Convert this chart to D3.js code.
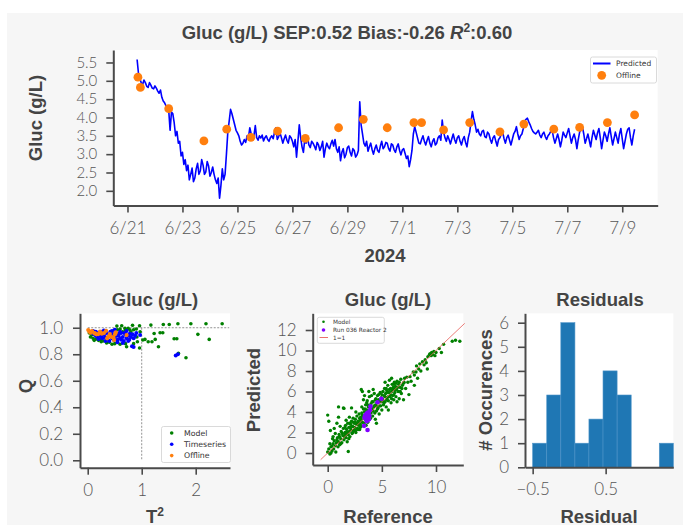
<!DOCTYPE html>
<html>
<head>
<meta charset="utf-8">
<script src="https://cdn.jsdelivr.net/npm/d3@7"></script>
<style>
  body { margin: 0; background: #fff; }
  svg { display: block; }
  .lbl { font-family: "Liberation Sans", Arial, sans-serif; font-weight: bold; fill: #444; }
  .leg { font-family: "DejaVu Sans", sans-serif; fill: #333; }
</style>
</head>
<body>
<div class="chart"></div>
<script>

// ---- data ----
var baseDay = Date.UTC(2024, 5, 21);           // 6/21
var predStartDay = 0.35, predStepDay = 0.05;    // predicted sampled every 1.2 h
var predicted = [
  5.58, 5.20, 5.05, 4.95, 4.90, 5.02, 4.95, 4.85, 4.82, 4.95,
  4.88, 4.80, 4.78, 4.86, 4.80, 4.72, 4.66, 4.75, 4.55, 4.45,
  4.40, 4.32, 4.30, 4.20, 3.65, 4.15, 4.10, 3.85, 3.50, 3.62,
  3.30, 3.35, 2.95, 3.05, 2.72, 2.85, 2.55, 2.70, 2.30, 2.45,
  2.62, 2.25, 2.35, 2.60, 2.75, 2.45, 2.55, 2.85, 2.70, 2.45,
  2.52, 2.80, 2.68, 2.40, 2.50, 2.65, 2.45, 2.30, 2.20, 2.35,
  1.80, 2.15, 2.60, 2.30, 2.45, 3.00, 3.60, 3.90, 4.22, 4.10,
  3.95, 3.80, 3.65, 3.58, 3.50, 3.35, 3.25, 3.30, 3.40, 3.32,
  3.50, 3.45, 3.72, 3.55, 3.42, 3.50, 3.78, 3.45, 3.38, 3.50,
  3.44, 3.52, 3.36, 3.45, 3.50, 3.40, 3.35, 3.45, 3.50, 3.42,
  3.60, 3.72, 3.40, 3.48, 3.58, 3.45, 3.30, 3.42, 3.52, 3.38,
  3.30, 3.50, 3.45, 3.35, 3.20, 3.40, 2.92, 3.35, 3.80, 3.45,
  3.20, 3.05, 3.40, 3.30, 3.45, 3.25, 3.18, 3.35, 3.30, 3.22,
  3.12, 3.32, 3.25, 3.10, 3.20, 3.35, 2.92, 3.15, 3.30, 3.20,
  3.15, 3.28, 3.38, 3.22, 3.40, 3.15, 3.05, 3.20, 2.82, 3.05,
  3.15, 2.90, 3.00, 3.18, 3.22, 3.05, 2.95, 3.15, 3.10, 2.92,
  2.98, 3.10, 4.43, 3.80, 3.55, 3.30, 3.22, 3.35, 3.08, 3.20,
  3.30, 3.12, 3.00, 3.15, 3.25, 3.10, 3.05, 3.22, 3.35, 3.15,
  3.20, 3.32, 3.30, 3.15, 3.08, 3.28, 3.25, 3.12, 3.05, 3.20,
  3.28, 3.10, 2.98, 3.12, 3.15, 3.02, 2.88, 2.95, 2.66, 2.85,
  3.10, 3.55, 3.75, 3.60, 3.45, 3.30, 3.28, 3.40, 3.50, 3.35,
  3.25, 3.38, 3.48, 3.30, 3.20, 3.35, 3.42, 3.25, 3.30, 3.45,
  3.50, 3.38, 3.93, 3.60, 3.45, 3.35, 3.50, 3.40, 3.28, 3.42,
  3.55, 3.40, 3.30, 3.45, 3.50, 3.35, 3.25, 3.40, 3.48, 3.32,
  3.20, 3.45, 3.60, 3.90, 4.16, 3.95, 3.80, 3.60, 3.68, 3.55,
  3.50, 3.62, 3.65, 3.48, 3.45, 3.60, 3.55, 3.40, 3.30, 3.45,
  3.50, 3.35, 3.22, 3.40, 3.45, 3.55, 3.60, 3.42, 3.30, 3.45,
  3.52, 3.38, 3.25, 3.40, 3.55, 3.62, 3.75, 3.55, 3.40, 3.50,
  3.55, 3.70, 3.90, 3.95, 3.98, 3.88, 3.80, 3.70, 3.62, 3.58,
  3.55, 3.60, 3.65, 3.52, 3.45, 3.55, 3.60, 3.48, 3.40, 3.50,
  3.55, 3.62, 3.65, 3.45, 3.30, 3.42, 3.55, 3.40, 3.20, 3.38,
  3.60, 3.52, 3.45, 3.58, 3.70, 3.50, 3.30, 3.45, 3.55, 3.40,
  3.15, 3.40, 3.60, 3.68, 3.75, 3.55, 3.30, 3.42, 3.55, 3.38,
  3.20, 3.45, 3.65, 3.52, 3.40, 3.58, 3.70, 3.45, 3.15, 3.38,
  3.60, 3.50, 3.35, 3.55, 3.72, 3.48, 3.25, 3.42, 3.60, 3.45,
  3.30, 3.55, 3.70, 3.42, 3.15, 3.35, 3.55, 3.68, 3.72, 3.45,
  3.25, 3.50, 3.68
];
var offlineDay = [0.38, 0.47, 1.50, 2.78, 3.61, 4.49, 5.46, 6.47, 7.68, 8.58, 9.45,
                  10.42, 10.70, 11.50, 12.45, 13.55, 14.42, 15.51, 16.45, 17.46, 18.45];
var offlineValue = [5.10, 4.82, 4.24, 3.36, 3.68, 3.46, 3.63, 3.43, 3.72, 3.95, 3.72,
                    3.86, 3.86, 3.66, 3.86, 3.61, 3.82, 3.68, 3.73, 3.86, 4.07];
var dateTicks = ["2024-06-21", "2024-06-23", "2024-06-25", "2024-06-27", "2024-06-29",
                 "2024-07-01", "2024-07-03", "2024-07-05", "2024-07-07", "2024-07-09"];
var glucTicks = [2.0, 2.5, 3.0, 3.5, 4.0, 4.5, 5.0, 5.5];

// T2 / Q diagnostics
var modelTQ = [
  [0.05,0.93],[0.1,0.92],[0.15,0.915],[0.2,0.905],[0.25,0.91],[0.3,0.9],[0.12,0.905],[0.18,0.92],
  [0.07,0.945],[0.03,0.96],[0.4,0.89],[0.5,0.88],[0.6,0.875],[0.7,0.88],[0.45,0.875],[0.55,0.9],
  [0.65,0.97],[0.6,0.99],[0.7,0.985],[0.8,0.97],[0.85,0.985],[0.9,0.99],[0.75,0.995],[0.55,0.985],
  [0.35,0.885],[0.25,0.895],
  [0.54,1.013],[0.63,1.015],[0.83,1.018],[0.96,1.015],[1.17,1.02],[1.40,1.025],[1.51,1.025],
  [1.67,1.03],[1.91,1.03],[2.19,1.03],[2.49,1.03],[1.23,0.957],[1.34,0.962],[1.39,0.962],
  [2.04,0.95],[2.25,0.912],[1.60,0.917],[1.65,0.917],[1.12,0.894],[1.06,0.912],[1.25,0.912],
  [1.31,0.857],[0.96,0.847],[0.72,0.857],[0.85,0.88],[1.68,0.807],[1.82,0.774],[1.02,0.907],
  [0.91,0.93],[0.97,0.97],[1.19,0.894],[0.92,0.894],[0.78,0.985],[0.69,0.995]
];
var timeseriesTQ = [
  [0.08,0.96],[0.12,0.95],[0.15,0.97],[0.18,0.93],[0.2,0.96],[0.22,0.94],[0.25,0.97],[0.27,0.92],
  [0.3,0.95],[0.32,0.93],[0.35,0.96],[0.37,0.91],[0.4,0.94],[0.42,0.97],[0.45,0.92],[0.47,0.95],
  [0.5,0.93],[0.52,0.96],[0.55,0.91],[0.57,0.94],[0.6,0.92],[0.62,0.96],[0.65,0.93],[0.67,0.9],
  [0.7,0.95],[0.72,0.92],[0.75,0.94],[0.77,0.91],[0.8,0.93],[0.83,0.95],[0.85,0.92],[0.88,0.94],
  [0.3,0.98],[0.45,0.975],[0.6,0.97],[0.2,0.915],[0.4,0.9],[0.55,0.89],[0.65,0.885],[0.75,0.9],
  [0.5,0.985],[0.35,0.92],[0.25,0.935],[0.58,0.955],[0.68,0.96],[0.78,0.955],[0.42,0.955],
  [0.48,0.91],[0.62,0.91],[0.72,0.975],[0.9,0.96],[0.97,0.945],[0.82,0.86],[0.85,0.855],
  [1.63,0.79],[1.67,0.80],[0.15,0.94],[0.1,0.975],[0.33,0.9],[0.53,0.94]
];
var offlineTQ = [
  [0.01,0.983],[0.03,0.97],[0.055,0.963],[0.08,0.975],[0.135,0.957],[0.16,0.95],[0.196,0.952],
  [0.227,0.97],[0.26,0.955],[0.34,0.977],[0.36,0.92],[0.38,0.932],[0.41,0.952],[0.44,0.93],
  [0.475,0.927],[0.487,0.907],[0.505,0.95],[0.52,0.965],[0.72,0.945],[0.3,0.96],[0.12,0.96]
];

// reference vs predicted
var modelRefPred = [
  [0.0,0.1],[0.1,0.4],[0.2,-0.1],[0.3,0.6],[0.4,0.2],[0.5,0.9],[0.55,0.4],[0.6,1.2],[0.7,0.7],
  [0.75,0.1],[0.8,1.0],[0.9,1.5],[0.95,0.6],[1.0,1.1],[1.05,1.8],[1.1,0.8],[1.2,1.4],[1.25,2.1],
  [1.3,1.0],[1.4,1.7],[1.45,2.4],[1.5,1.3],[0.0,3.7],[0.1,3.1],[0.25,2.2],[0.6,2.4],[0.85,2.9],
  [1.0,3.5],[1.45,4.4],[1.0,4.5],[1.5,4.35],[1.9,0.15],[0.3,0.0],[0.45,1.4],[0.7,1.9],[1.15,2.6],
  [1.6,2.0],[1.65,2.7],[1.7,1.5],[1.75,2.3],[1.8,1.1],[1.85,2.9],[1.9,1.8],[1.95,2.5],[2.0,2.1],
  [2.05,1.6],[2.1,2.8],[2.15,2.3],[2.2,3.1],[2.25,1.9],[2.3,2.6],[2.35,3.4],[2.4,2.2],[2.45,2.9],
  [2.5,2.5],[2.55,3.3],[2.6,2.0],[2.65,2.8],[2.7,3.6],[2.75,2.4],[2.8,3.1],[2.85,2.7],[2.9,3.8],
  [2.95,2.3],[3.0,3.2],[3.0,2.8],[2.2,4.4],[2.0,3.5],[1.7,3.2],[2.6,4.0],
  [3.05,3.5],[3.1,2.6],[3.1,6.2],[3.2,6.0],[3.15,3.9],[3.2,3.0],[3.25,3.6],[3.3,4.3],[3.35,2.9],
  [3.4,4.0],[3.45,3.3],[3.5,4.7],[3.55,2.7],[3.6,4.2],[3.65,5.1],[3.7,3.0],[3.75,4.5],[3.8,3.7],
  [3.85,5.5],[3.9,4.1],[3.95,3.4],[4.0,4.8],[4.05,5.6],[4.1,4.3],[4.15,3.6],[4.2,5.0],[4.25,4.5],
  [4.3,5.8],[4.35,3.9],[4.4,4.7],[4.45,5.3],[4.5,4.1],[4.55,4.9],[4.6,5.6],[4.65,4.4],[4.7,5.2],
  [4.75,3.8],[4.8,5.0],[4.85,5.9],[4.9,4.6],[4.95,5.4],[5.0,4.2],[3.4,5.6],[3.8,6.0],[4.4,3.3],
  [4.2,6.2],[3.3,5.2],[4.5,2.9],
  [5.05,5.3],[5.1,6.0],[5.15,4.7],[5.2,5.6],[5.25,6.3],[5.3,5.0],[5.35,5.8],[5.4,4.5],[5.45,6.1],
  [5.5,5.4],[5.55,6.6],[5.6,5.1],[5.65,5.9],[5.7,7.1],[5.75,5.5],[5.8,6.3],[5.85,4.9],[5.9,6.0],
  [5.95,6.7],[6.0,5.6],[6.05,6.4],[6.1,5.2],[6.15,6.9],[6.2,5.9],[6.25,6.5],[6.3,5.5],[6.35,6.2],
  [6.4,7.0],[6.5,6.0],[6.55,6.7],[6.6,5.3],[6.7,6.4],[6.75,7.2],[6.8,5.8],[6.9,6.6],[7.0,5.2],
  [7.05,6.9],[7.2,6.3],[7.3,7.4],[7.5,5.7],[7.6,7.45],[5.3,6.9],[5.9,7.3],[6.4,5.0],[5.6,4.2],
  [7.7,7.0],[7.9,7.9],[8.0,7.6],[8.15,7.9],[8.2,8.5],[8.4,8.2],[8.5,8.7],[8.6,8.0],[8.75,8.9],
  [8.9,8.6],[9.0,9.1],[9.1,8.8],[9.25,9.4],[9.4,9.6],[9.45,9.7],[9.55,9.5],[9.6,9.8],[9.7,9.6],
  [9.8,9.9],[9.9,9.5],[10.0,9.8],[10.5,9.8],[10.7,10.6],[10.3,10.2],[11.5,10.9],[11.8,11.0],
  [12.2,10.9],[9.2,8.2],[8.0,6.6],[8.3,7.3],
  [1.2,0.9],[1.35,1.9],[1.55,1.6],[1.6,2.5],[1.8,2.0],[1.95,1.4],[2.1,2.5],[2.3,2.0],[2.4,3.0],
  [2.55,2.2],[2.7,2.9],[2.8,2.3],[2.95,3.4],[3.1,3.3],[3.2,3.7],[3.35,3.5],[3.45,4.3],[3.55,3.9],
  [3.7,4.7],[3.8,3.3],[3.9,4.6],[4.0,3.9],[4.1,5.0],[4.2,4.1],[4.3,4.6],[4.4,5.2],[4.5,4.6],
  [4.6,4.3],[4.7,5.7],[4.8,4.6],[4.9,5.1],[5.0,5.7],[5.1,5.1],[5.2,4.9],[5.3,5.5],[5.4,6.3],
  [5.5,5.9],[5.6,5.5],[5.7,6.2],[5.8,5.7],[5.9,5.3],[6.0,6.2],[6.1,6.7],[6.2,6.2],[6.3,6.8],
  [6.45,6.4],[6.6,6.9],[6.7,6.0],[6.85,6.3],[7.0,6.8],[7.1,7.3],[7.4,6.9],[2.05,2.9],[2.5,3.0],
  [3.0,2.5],[3.6,4.9],[4.0,4.4],[4.6,5.1],[5.0,5.0],[5.45,5.2],[6.1,5.7],[0.2,0.9],[0.4,0.7],
  [0.85,1.3],[1.1,1.6],[1.65,1.8],[0.5,1.6],[2.25,2.6],[2.9,2.9],[3.15,4.5]
];
var runRefPred = [
  [3.4,3.45],[3.5,3.7],[3.55,3.3],[3.6,3.85],[3.65,3.55],[3.7,3.2],[3.72,3.65],[3.75,3.4],
  [3.8,3.9],[3.85,3.6],[3.6,3.1],[3.45,3.6],[3.7,3.95],[3.82,3.3],[3.55,3.75],[3.68,2.25],
  [3.36,2.65],[3.95,4.55],[4.6,4.95],[4.95,5.3],[3.9,4.2]
];
var identityEnds = [-0.65, 12.65];

// residual histogram
var residualEdges = [-0.5, -0.307, -0.114, 0.079, 0.271, 0.464, 0.657, 0.85, 1.042, 1.235, 1.428];
var residualCounts = [1, 3, 6, 1, 2, 4, 3, 0, 0, 1];

// ---- drawing ----
var svg = d3.select(".chart").append("svg")
    .attr("width", 683)
    .attr("height", 526);

svg.append("rect")
    .attr("x", 7).attr("y", 13)
    .attr("width", 676).attr("height", 512)
    .attr("fill", "#f6f6f6");

var tickFont = "Lato, 'Open Sans', sans-serif";

function styleAxis(g, size) {
  g.attr("font-family", tickFont).attr("font-size", size || 17).attr("font-weight", 300);
  g.select(".domain").attr("stroke", "#4a4a4a").attr("stroke-width", 2);
  g.selectAll(".tick line").attr("stroke", "#4a4a4a").attr("stroke-width", 1.6);
  g.selectAll(".tick text").attr("fill", "#555");
}

function plotArea(x, y) {
  svg.append("rect")
      .attr("x", x.range()[0]).attr("y", y.range()[1])
      .attr("width", x.range()[1] - x.range()[0])
      .attr("height", y.range()[0] - y.range()[1])
      .attr("fill", "#fff");
}

function label(txt, x, y, size, rot) {
  var t = svg.append("text").attr("class", "lbl")
      .attr("font-size", size)
      .attr("text-anchor", "middle")
      .text(txt);
  if (rot) t.attr("transform", "translate(" + x + "," + y + ") rotate(-90)");
  else t.attr("x", x).attr("y", y);
  return t;
}

// ---------- top: time series ----------
var dayMs = 864e5;
var xTime = d3.scaleUtc()
    .domain([new Date(baseDay - 0.516 * dayMs), new Date(baseDay + 19.29 * dayMs)])
    .range([113.3, 657.7]);
var yGluc = d3.scaleLinear().domain([1.60, 5.84]).range([205.5, 50]);

plotArea(xTime, yGluc);

var line = d3.line()
    .x(function(d, i) { return xTime(new Date(baseDay + (predStartDay + i * predStepDay) * dayMs)); })
    .y(function(d) { return yGluc(d); });

svg.append("path")
    .datum(predicted)
    .attr("d", line)
    .attr("fill", "none")
    .attr("stroke", "#0000ff")
    .attr("stroke-width", 1.6)
    .attr("stroke-linejoin", "round");

svg.selectAll(".offline")
    .data(offlineDay)
    .enter()
    .append("circle")
    .attr("cx", function(d) { return xTime(new Date(baseDay + d * dayMs)); })
    .attr("cy", function(d, i) { return yGluc(offlineValue[i]); })
    .attr("r", 4.4)
    .attr("fill", "#ff7f0e");

svg.append("g")
    .attr("transform", "translate(0,205.5)")
    .call(d3.axisBottom(xTime)
        .tickValues(dateTicks.map(function(s) { return d3.utcParse("%Y-%m-%d")(s); }))
        .tickFormat(d3.utcFormat("%-m/%-d"))
        .tickSize(7).tickPadding(9).tickSizeOuter(0))
    .call(styleAxis, 17);

svg.append("g")
    .attr("transform", "translate(113.3,0)")
    .call(d3.axisLeft(yGluc).tickValues(glucTicks).tickFormat(d3.format(".1f"))
        .tickSize(7).tickPadding(9).tickSizeOuter(0))
    .call(styleAxis, 15);

// legend
svg.append("rect").attr("x", 590.5).attr("y", 57).attr("width", 66).attr("height", 26)
    .attr("rx", 2).attr("fill", "#fff").attr("stroke", "#d0d0d0").attr("stroke-width", 0.8);
svg.append("line").attr("x1", 593).attr("x2", 610.5).attr("y1", 63.5).attr("y2", 63.5)
    .attr("stroke", "#0000ff").attr("stroke-width", 2);
svg.append("circle").attr("cx", 601.7).attr("cy", 75.3).attr("r", 4.4).attr("fill", "#ff7f0e");
svg.append("text").attr("class", "leg").attr("x", 616).attr("y", 66.3).attr("font-size", 7.5).text("Predicted");
svg.append("text").attr("class", "leg").attr("x", 616).attr("y", 78).attr("font-size", 7.5).text("Offline");

// titles
var title = svg.append("text").attr("class", "lbl")
    .attr("x", 347).attr("y", 39).attr("font-size", 18.5).attr("text-anchor", "middle");
title.append("tspan").text("Gluc (g/L) SEP:0.52 Bias:-0.26 ");
title.append("tspan").attr("font-style", "italic").text("R");
title.append("tspan").attr("font-size", 12).attr("dy", -7).text("2");
title.append("tspan").attr("dy", 7).text(":0.60");

label("Gluc (g/L)", 42, 118, 18.5, true);
label("2024", 385, 262, 18.5, false);

// ---------- bottom left: T2 vs Q ----------
var xT2 = d3.scaleLinear().domain([-0.143, 2.635]).range([80, 230]);
var yQ = d3.scaleLinear().domain([-0.056, 1.109]).range([467.7, 313.3]);

plotArea(xT2, yQ);

svg.append("line")
    .attr("x1", xT2(0)).attr("x2", xT2(2.62))
    .attr("y1", yQ(1)).attr("y2", yQ(1))
    .attr("stroke", "#777").attr("stroke-width", 0.8).attr("stroke-dasharray", "2,1.5");
svg.append("line")
    .attr("x1", xT2(1)).attr("x2", xT2(1))
    .attr("y1", yQ(1)).attr("y2", yQ(0))
    .attr("stroke", "#777").attr("stroke-width", 0.8).attr("stroke-dasharray", "2,1.5");

function dots(data, xs, ys, r, color) {
  svg.append("g").selectAll("circle")
      .data(data)
      .enter()
      .append("circle")
      .attr("cx", function(d) { return xs(d[0]); })
      .attr("cy", function(d) { return ys(d[1]); })
      .attr("r", r)
      .attr("fill", color);
}

dots(modelTQ, xT2, yQ, 1.8, "#008000");
dots(timeseriesTQ, xT2, yQ, 2.0, "#0000ff");
dots(offlineTQ, xT2, yQ, 2.1, "#ff7f0e");

svg.append("g")
    .attr("transform", "translate(0,467.7)")
    .call(d3.axisBottom(xT2).tickValues([0, 1, 2]).tickFormat(d3.format("d"))
        .tickSize(7).tickPadding(9).tickSizeOuter(0))
    .call(styleAxis, 17);
svg.append("g")
    .attr("transform", "translate(80,0)")
    .call(d3.axisLeft(yQ).tickValues([0, 0.2, 0.4, 0.6, 0.8, 1.0]).tickFormat(d3.format(".1f"))
        .tickSize(7).tickPadding(10).tickSizeOuter(0))
    .call(styleAxis, 17);

svg.append("rect").attr("x", 161.5).attr("y", 426.5).attr("width", 69).attr("height", 36)
    .attr("rx", 2).attr("fill", "#fff").attr("stroke", "#d0d0d0").attr("stroke-width", 0.8);
[["Model", "#008000"], ["Timeseries", "#0000ff"], ["Offline", "#ff7f0e"]].forEach(function(e, i) {
  svg.append("circle").attr("cx", 171.7).attr("cy", 433 + i * 11.3).attr("r", 1.8).attr("fill", e[1]);
  svg.append("text").attr("class", "leg").attr("x", 184).attr("y", 435.8 + i * 11.3)
      .attr("font-size", 7.8).text(e[0]);
});

label("Gluc (g/L)", 155, 306, 18.5, false);
label("Q", 31.5, 386, 18.5, true);
var t2 = label("T", 155, 523, 18.5, false);
t2.append("tspan").attr("font-size", 12).attr("dy", -7).text("2");

// ---------- bottom middle: reference vs predicted ----------
var xRef = d3.scaleLinear().domain([-1.385, 12.52]).range([312.7, 463.3]);
var yPred = d3.scaleLinear().domain([-1.17, 13.63]).range([465, 313.3]);

plotArea(xRef, yPred);

dots(modelRefPred, xRef, yPred, 1.7, "#008000");

svg.append("line")
    .attr("x1", xRef(identityEnds[0])).attr("y1", yPred(identityEnds[0]))
    .attr("x2", xRef(identityEnds[1])).attr("y2", yPred(identityEnds[1]))
    .attr("stroke", "#e8605a").attr("stroke-width", 0.9).attr("opacity", 0.9);

dots(runRefPred, xRef, yPred, 2.3, "#8000ff");

svg.append("g")
    .attr("transform", "translate(0,465)")
    .call(d3.axisBottom(xRef).tickValues([0, 5, 10]).tickFormat(d3.format("d"))
        .tickSize(7).tickPadding(9).tickSizeOuter(0))
    .call(styleAxis, 17);
svg.append("g")
    .attr("transform", "translate(312.7,0)")
    .call(d3.axisLeft(yPred).tickValues([0, 2, 4, 6, 8, 10, 12]).tickFormat(d3.format("d"))
        .tickSize(7).tickPadding(9).tickSizeOuter(0))
    .call(styleAxis, 17);

svg.append("rect").attr("x", 317.3).attr("y", 317.3).attr("width", 67).attr("height", 26)
    .attr("rx", 2).attr("fill", "#fff").attr("stroke", "#d0d0d0").attr("stroke-width", 0.8);
svg.append("circle").attr("cx", 323.5).attr("cy", 321.8).attr("r", 1.3).attr("fill", "#008000");
svg.append("circle").attr("cx", 323.5).attr("cy", 330).attr("r", 1.8).attr("fill", "#8000ff");
svg.append("line").attr("x1", 319.5).attr("x2", 328).attr("y1", 337.5).attr("y2", 337.5)
    .attr("stroke", "#e8605a").attr("stroke-width", 0.9);
["Model", "Run 036 Reactor 2", "1=1"].forEach(function(s, i) {
  svg.append("text").attr("class", "leg").attr("x", 333).attr("y", 324 + i * 7.9)
      .attr("font-size", 5.8).text(s);
});

label("Gluc (g/L)", 388, 306, 18.5, false);
label("Predicted", 260, 390, 18.5, true);
label("Reference", 388, 523, 18.5, false);

// ---------- bottom right: residual histogram ----------
var xRes = d3.scaleLinear().domain([-0.605, 1.427]).range([525, 673.3]);
var yCnt = d3.scaleLinear().domain([0, 6.39]).range([467.3, 313.3]);

plotArea(xRes, yCnt);

svg.append("g").selectAll("rect")
    .data(residualCounts)
    .enter()
    .append("rect")
    .attr("x", function(d, i) { return xRes(residualEdges[i]); })
    .attr("width", function(d, i) { return xRes(residualEdges[i + 1]) - xRes(residualEdges[i]); })
    .attr("y", function(d) { return yCnt(d); })
    .attr("height", function(d) { return yCnt(0) - yCnt(d); })
    .attr("fill", "#1f77b4")
    .attr("stroke", "#4d93c8")
    .attr("stroke-width", 0.6);

svg.append("g")
    .attr("transform", "translate(0,467.3)")
    .call(d3.axisBottom(xRes).tickValues([-0.5, 0.5]).tickFormat(d3.format(".1f"))
        .tickSize(7).tickPadding(9).tickSizeOuter(0))
    .call(styleAxis, 17);
svg.append("g")
    .attr("transform", "translate(525,0)")
    .call(d3.axisLeft(yCnt).tickValues([0, 1, 2, 3, 4, 5, 6]).tickFormat(d3.format("d"))
        .tickSize(7).tickPadding(9).tickSizeOuter(0))
    .call(styleAxis, 17);

label("Residuals", 600, 306, 18.5, false);
label("# Occurences", 491.5, 390, 18.5, true);
label("Residual", 599, 523, 18.5, false);

</script>
</body>
</html>
